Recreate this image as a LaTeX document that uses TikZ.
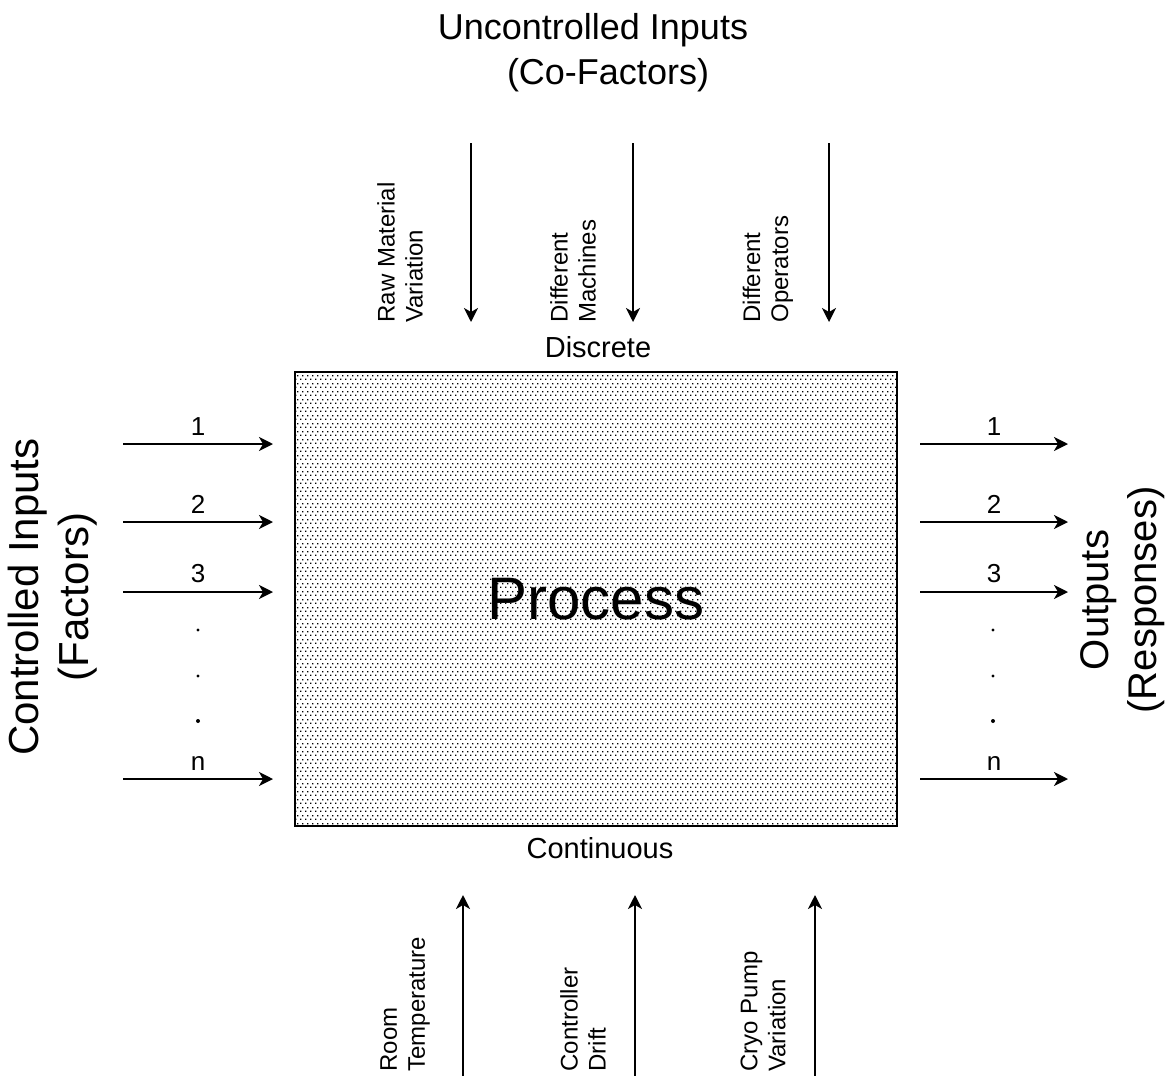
\documentclass[tikz,border=0pt]{standalone}
\usepackage{fontspec}
\setmainfont{Liberation Sans}
\usetikzlibrary{arrows.meta}
\usetikzlibrary{patterns}
\usetikzlibrary{positioning}

\pgfdeclarepatternformonly{procdots}{\pgfpointorigin}{\pgfpoint{2.5pt}{4pt}}{\pgfpoint{2.5pt}{4pt}}{%
  \pgfpathrectangle{\pgfpoint{0pt}{0pt}}{\pgfpoint{0.8pt}{0.8pt}}%
  \pgfpathrectangle{\pgfpoint{1.25pt}{2pt}}{\pgfpoint{0.8pt}{0.8pt}}%
  \pgfusepath{fill}}

\begin{document}
\begin{tikzpicture}[x=0.5pt, y=-0.5pt, >={Stealth[length=7pt,width=7pt,inset=2pt]},
    flow/.style={->, line width=1pt},
    num/.style={above, inner sep=4pt, font=\fontsize{13}{15}\selectfont},
    vlbl/.style={rotate=90, anchor=west, align=left, inner sep=0pt, font=\fontsize{12}{14}\selectfont},
    side/.style={rotate=90, align=center, font=\fontsize{21}{25}\selectfont},
    kind/.style={font=\fontsize{14.5}{17}\selectfont},
    title/.style={font=\fontsize{18}{22}\selectfont}]
      \useasboundingbox (0,0) rectangle (1168,1076);
      % the process box
      \node[draw, line width=1pt, pattern=procdots, minimum width=301pt, minimum height=227pt,
            inner sep=0pt, font=\fontsize{30}{34}\selectfont] (proc) at (596,599) {Process};
      \node[kind] (disc) at (598,347) {Discrete};
      \node[kind] (cont) at (600,848) {Continuous};
      \node[title] (unc) at (593,30) {Uncontrolled Inputs};
      \node[title] (cof) at (608,75) {(Co-Factors)};
      \node[side] (ctrl) at (53,597) {Controlled Inputs\\(Factors)};
      \node[side, font=\fontsize{20}{24}\selectfont] (outs) at (1123,600) {Outputs\\(Responses)};
      % controlled inputs
      \coordinate (ina1) at (123,444); \coordinate (inb1) at (273,444);
      \coordinate (ina2) at (123,522); \coordinate (inb2) at (273,522);
      \coordinate (ina3) at (123,592); \coordinate (inb3) at (273,592);
      \coordinate (inan) at (123,779); \coordinate (inbn) at (273,779);
      % outputs
      \coordinate (outa1) at (920,444); \coordinate (outb1) at (1068,444);
      \coordinate (outa2) at (920,522); \coordinate (outb2) at (1068,522);
      \coordinate (outa3) at (920,592); \coordinate (outb3) at (1068,592);
      \coordinate (outan) at (920,779); \coordinate (outbn) at (1068,779);
      % co-factors, discrete and continuous
      \coordinate (raw)  at (471,143); \coordinate (rawt)  at (471,322);
      \coordinate (mach) at (633,143); \coordinate (macht) at (633,322);
      \coordinate (oper) at (829,143); \coordinate (opert) at (829,322);
      \coordinate (room) at (463,1076); \coordinate (roomt) at (463,895);
      \coordinate (drft) at (635,1076); \coordinate (drftt) at (635,895);
      \coordinate (cryo) at (815,1076); \coordinate (cryot) at (815,895);
      \path[flow]
        (ina1) edge node[num] {1} (inb1)
        (ina2) edge node[num] {2} (inb2)
        (ina3) edge node[num] {3} (inb3)
        (inan) edge node[num] {n} (inbn)
        (outa1) edge node[num] {1} (outb1)
        (outa2) edge node[num] {2} (outb2)
        (outa3) edge node[num] {3} (outb3)
        (outan) edge node[num] {n} (outbn)
        (raw) edge (rawt)
        (mach) edge (macht)
        (oper) edge (opert)
        (room) edge (roomt)
        (drft) edge (drftt)
        (cryo) edge (cryot);
      \node[vlbl] (rawl)  at (400,323)  {Raw Material\\Variation};
      \node[vlbl] (machl) at (573,323)  {Different\\Machines};
      \node[vlbl] (operl) at (768,323)  {Different\\Operators};
      \node[vlbl] (rooml) at (405,1072) {Room\\Temperature};
      \node[vlbl] (drftl) at (583,1072) {Controller\\Drift};
      \node[vlbl] (cryol) at (763,1072) {Cryo Pump\\Variation};
      % the dots between 3 and n
      \fill (198,630) circle[radius=0.8pt] (198,676) circle[radius=0.8pt] (198,721) circle[radius=1pt];
      \fill (993,630) circle[radius=0.8pt] (993,676) circle[radius=0.8pt] (993,721) circle[radius=1pt];
    \end{tikzpicture}
\end{document}
